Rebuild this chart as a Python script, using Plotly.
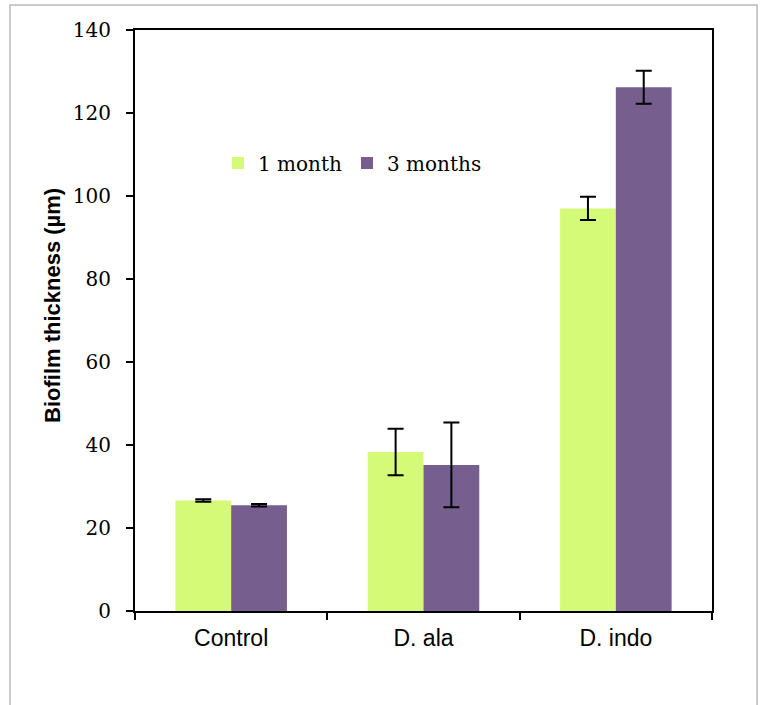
import plotly.graph_objects as go

categories = ["Control", "D. ala", "D. indo"]
one_month = [26.6, 38.3, 97.0]
one_month_err = [0.3, 5.6, 2.8]
three_months = [25.5, 35.2, 126.2]
three_months_err = [0.3, 10.2, 4.0]
y_ticks = [0, 20, 40, 60, 80, 100, 120, 140]

W, H = 762, 705
ml, mr, mt, mb = 135, 50, 30, 94
pw, ph = W - ml - mr, H - mt - mb

fig = go.Figure()
fig.add_trace(go.Bar(
    x=categories, y=one_month, name="1 month",
    marker=dict(color="#D5FA78", line=dict(width=0)),
    error_y=dict(type="data", array=one_month_err, visible=True,
                 color="black", thickness=2, width=8),
))
fig.add_trace(go.Bar(
    x=categories, y=three_months, name="3 months",
    marker=dict(color="#765F8E", line=dict(width=0)),
    error_y=dict(type="data", array=three_months_err, visible=True,
                 color="black", thickness=2, width=8),
))

# light gray page frame
fig.add_shape(type="rect", xref="paper", yref="paper",
              x0=(10 - ml) / pw, x1=(757 - ml) / pw,
              y0=1 + (mt - 5) / ph, y1=-(720 - (H - mb)) / ph,
              line=dict(color="#BBBBBB", width=1.5), layer="below")

# y-axis title
fig.add_annotation(text="<b>Biofilm thickness (µm)</b>", textangle=-90,
                   xref="paper", yref="paper",
                   x=(52 - ml) / pw, y=1 - (306 - mt) / ph,
                   xanchor="center", yanchor="middle", showarrow=False,
                   font=dict(family="Liberation Sans", size=22, color="black"))

fig.update_layout(
    width=W, height=H,
    margin=dict(l=ml, r=mr, t=mt, b=mb),
    plot_bgcolor="white", paper_bgcolor="white",
    barmode="group", bargap=0.42, bargroupgap=0,
    showlegend=True,
    legend=dict(orientation="h", x=(218 - ml) / pw, y=1 - (163 - mt) / ph,
                xanchor="left", yanchor="middle",
                font=dict(family="DejaVu Serif", size=20, color="black"),
                itemwidth=30, tracegroupgap=0, bgcolor="rgba(0,0,0,0)"),
    xaxis=dict(
        type="category", showline=True, linecolor="black", linewidth=2, mirror=True,
        ticks="outside", tickson="boundaries", ticklen=7, tickwidth=1.5, tickcolor="black",
        tickfont=dict(family="Liberation Sans", size=23, color="black"),
        ticklabelstandoff=5,
        showgrid=False,
    ),
    yaxis=dict(
        range=[0, 140], tickvals=y_ticks, showline=True, linecolor="black",
        linewidth=2, mirror=True, ticks="outside", ticklen=7, tickwidth=1.5,
        tickcolor="black", showgrid=False, zeroline=False,
        tickfont=dict(family="DejaVu Serif", size=20, color="black"),
        ticklabelstandoff=11,
    ),
)

fig.write_html("out.html", config={"displayModeBar": False},
               post_script="document.body.style.margin='0';")
